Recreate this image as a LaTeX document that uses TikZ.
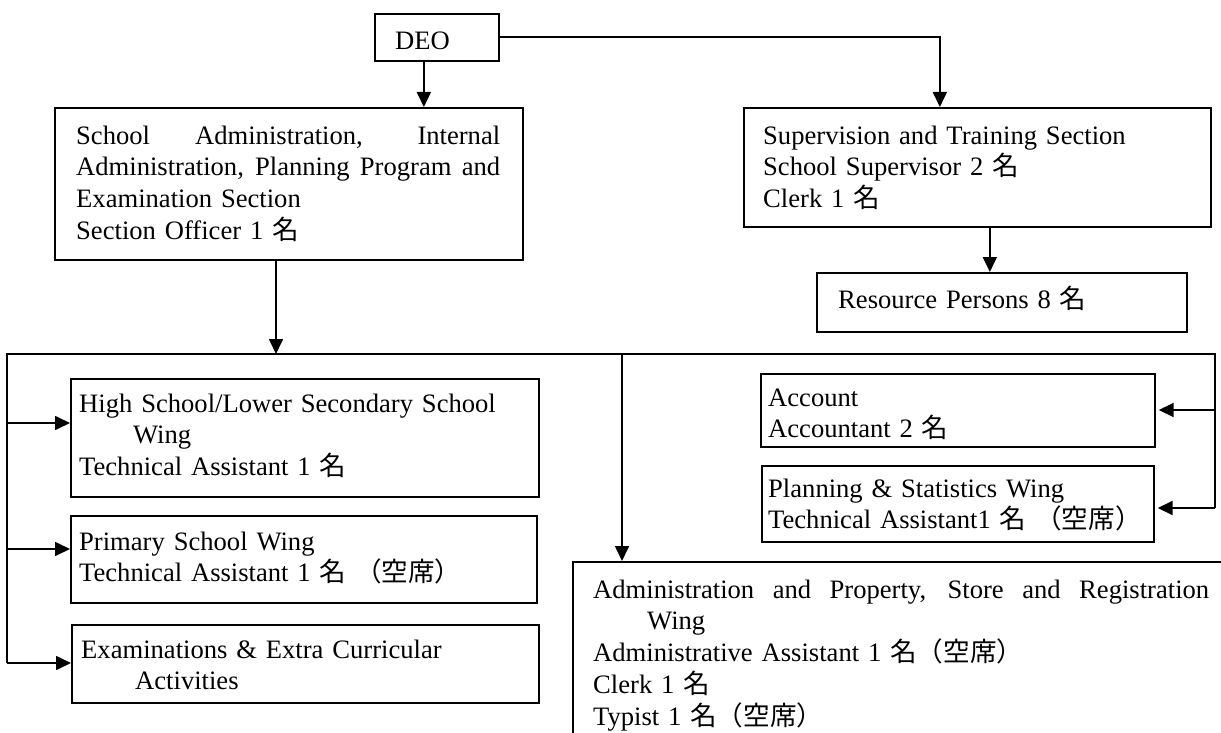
\documentclass[tikz,border=0pt]{standalone}
\usepackage{fontspec}
\setmainfont{Liberation Serif}
\newfontfamily\cjk{Noto Sans CJK JP}
\usetikzlibrary{arrows.meta}
% Japanese fragments used in the staff counts
\newcommand\jmei{{\cjk 名}}
\newcommand\jvacant{{\cjk （空席）}}
% fixed-height strut so every line sits on a 31.7pt grid
\newcommand\lnstrut{\rule[-7.7pt]{0pt}{31.7pt}}
% a line stretched to a given width (justified)
\newcommand\justline[2]{\makebox[#1][s]{\spaceskip=0pt\xspaceskip=0pt #2}}

\begin{document}
\begin{tikzpicture}[x=1pt,y=-1pt,
  box/.style={draw, line width=1.7pt, rectangle, anchor=north west, inner sep=0pt},
  txt/.style={anchor=north west, inner sep=0pt,
    font=\fontsize{26.6pt}{31.7pt}\selectfont,
    execute at begin node=\setlength{\parindent}{0pt}},
  conn/.style={line width=1.7pt, line join=miter},
  arr/.style={conn, -{Triangle[length=15pt,width=14pt]}}]

\useasboundingbox (0,0) rectangle (1221,733);
\clip (0,0) rectangle (1221,733);

% ---- boxes ----
\node[box, minimum width=124pt, minimum height=47pt]  (deo) at (374,13)  {};
\node[box, minimum width=468pt, minimum height=152pt] (sa)  at (54,107)  {};
\node[box, minimum width=467pt, minimum height=119pt] (sup) at (743,107) {};
\node[box, minimum width=370pt, minimum height=59pt]  (res) at (816,272) {};
\node[box, minimum width=468pt, minimum height=118pt] (hs)  at (70,378)  {};
\node[box, minimum width=466pt, minimum height=87pt]  (pr)  at (70,515)  {};
\node[box, minimum width=467pt, minimum height=78pt]  (ex)  at (71,624)  {};
\node[box, minimum width=394pt, minimum height=73pt]  (acc) at (760,373) {};
\node[box, minimum width=392pt, minimum height=76pt]  (pl)  at (761,465) {};
\node[box, minimum width=700pt, minimum height=250pt] (adm) at (572,561) {};

% ---- box texts ----
\node[txt, text width=110pt] (deo-t) at (395,25) {\lnstrut DEO};
\node[txt, text width=430pt] (sa-t) at (76,120) {%
  \lnstrut\justline{424pt}{School Administration, Internal}\\
  \lnstrut\justline{424pt}{Administration, Planning Program and}\\
  \lnstrut Examination Section\\
  \lnstrut Section Officer 1 \jmei};
\node[txt, text width=440pt] (sup-t) at (763,120) {%
  \lnstrut Supervision and Training Section\\
  \lnstrut School Supervisor 2 \jmei\\
  \lnstrut Clerk 1 \jmei};
\node[txt, text width=340pt] (res-t) at (838,284) {\lnstrut Resource Persons 8 \jmei};
\node[txt, text width=455pt] (hs-t) at (79,388) {%
  \lnstrut High School/Lower Secondary School\\
  \lnstrut\hspace*{54pt}Wing\\
  \lnstrut Technical Assistant 1 \jmei};
\node[txt, text width=450pt] (pr-t) at (79,526) {%
  \lnstrut Primary School Wing\\
  \lnstrut Technical Assistant 1 \jmei\ \jvacant};
\node[txt, text width=450pt] (ex-t) at (81,634) {%
  \lnstrut Examinations \& Extra Curricular\\
  \lnstrut\hspace*{54pt}Activities};
\node[txt, text width=380pt] (acc-t) at (768,382) {%
  \lnstrut Account\\
  \lnstrut Accountant 2 \jmei};
\node[txt, text width=380pt] (pl-t) at (768,473) {%
  \lnstrut Planning \& Statistics Wing\\
  \lnstrut Technical Assistant1 \jmei\ \jvacant};
\node[txt, text width=620pt] (adm-t) at (593,574) {%
  \lnstrut\justline{616pt}{Administration and Property, Store and Registration}\\
  \lnstrut\hspace*{54pt}Wing\\
  \lnstrut Administrative Assistant 1 \jmei\jvacant\\
  \lnstrut Clerk 1 \jmei\\
  \lnstrut Typist 1 \jmei\jvacant};

% ---- distribution bus ----
\coordinate (busL) at (7,354);
\coordinate (busR) at (1215,354);
\coordinate (busA) at (276,354);
\coordinate (busB) at (622,354);
\coordinate (hsIn) at (7,423);
\coordinate (prIn) at (7,549);
\coordinate (exIn) at (7,663);
\coordinate (accIn) at (1215,410);
\coordinate (plIn) at (1215,508);

% ---- connectors ----
\draw[arr] ([xshift=-13pt]deo.south) -- ([xshift=-13pt]deo.south |- sa.north);
\draw[arr] (deo.east) -| ([xshift=-37.5pt]sup.north);
\draw[arr] ([xshift=12.5pt]sup.south) -- ([xshift=12.5pt]sup.south |- res.north);
\draw[arr] (sa.south -| busA) -- (busA);
\draw[conn] (exIn) -- (busL) -- (busR) -- (plIn);
\draw[arr] (busB) -- (busB |- adm.north);
\draw[arr] (hsIn) -- (hsIn -| hs.west);
\draw[arr] (prIn) -- (prIn -| pr.west);
\draw[arr] (exIn) -- (exIn -| ex.west);
\draw[arr, shorten >=3pt] (accIn) -- (accIn -| acc.east);
\draw[arr, shorten >=3pt] (plIn) -- (plIn -| pl.east);
\end{tikzpicture}
\end{document}
